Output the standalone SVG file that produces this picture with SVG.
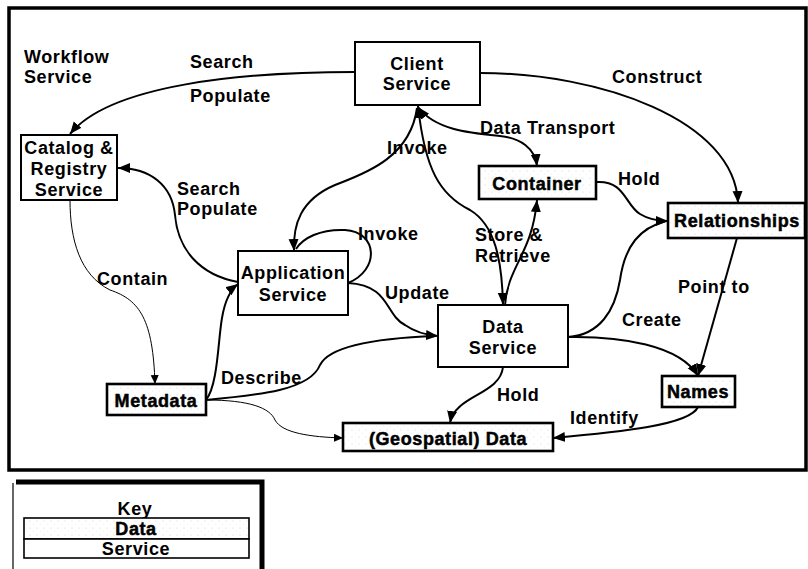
<svg xmlns="http://www.w3.org/2000/svg" width="808" height="569" viewBox="0 0 808 569">
<defs>
<marker id="ah" markerUnits="userSpaceOnUse" markerWidth="13" markerHeight="11" refX="12" refY="5" orient="auto-start-reverse" viewBox="0 0 13 11">
<path d="M0,0 L12,5 L0,10 z" fill="#000"/>
</marker>
<marker id="ahs" markerUnits="userSpaceOnUse" markerWidth="10" markerHeight="9" refX="9" refY="4" orient="auto" viewBox="0 0 10 9">
<path d="M0,0 L9,4 L0,8 z" fill="#000"/>
</marker>
<pattern id="speck" width="7" height="7" patternUnits="userSpaceOnUse">
<rect width="7" height="7" fill="#fff"/>
<circle cx="2" cy="3" r="0.5" fill="#ccc"/>
<circle cx="5.5" cy="6" r="0.4" fill="#ddd"/>
</pattern>
</defs>
<style>
text{font-family:"Liberation Sans",Arial,sans-serif;font-weight:bold;font-size:18px;letter-spacing:0.6px;fill:#000}
.c{text-anchor:middle}
.node rect{fill:#fff;stroke:#000;stroke-width:2}
.data rect{fill:url(#speck);stroke:#000;stroke-width:2.6}
.data text{stroke:#000;stroke-width:0.5}
.e{fill:none;stroke:#000;stroke-width:2}
.t{fill:none;stroke:#000;stroke-width:1}
</style>
<rect x="9" y="8" width="797" height="462" fill="none" stroke="#000" stroke-width="3.5"/>

<text x="24" y="63">Workflow</text>
<text x="24" y="83">Service</text>

<g id="connectors">
<path class="e" d="M355,72 C240,72 110,85 70,134" marker-end="url(#ah)"/>
<path class="e" d="M480,73 C600,73 735,120 738,203" marker-end="url(#ah)"/>
<path class="e" d="M418,107 C435,130 470,133 500,136 C520,138 535,148 537,166" marker-start="url(#ah)" marker-end="url(#ah)"/>
<path class="e" d="M417,108 C410,160 360,175 335,185 C300,200 293,225 294,251" marker-end="url(#ah)"/>
<path class="e" d="M418,106 C425,170 440,195 470,210 C495,225 502,260 503,305" marker-start="url(#ah)" marker-end="url(#ah)"/>
<path class="e" d="M505,305 C508,265 532,255 537,200" marker-end="url(#ah)"/>
<path class="e" d="M596,182 C625,180 625,205 640,214 C648,219 655,221 668,221" marker-end="url(#ah)"/>
<path class="e" d="M568,337 C600,335 615,310 620,280 C625,245 640,228 666,221"/>
<path class="e" d="M568,337 C620,336 680,345 698,376" marker-end="url(#ah)"/>
<path class="e" d="M737,238 L698,376" marker-end="url(#ah)"/>
<path class="e" d="M698,407 C690,425 620,432 553,438" marker-end="url(#ah)"/>
<path class="e" d="M503,367 C500,395 455,395 450,423" marker-end="url(#ah)"/>
<path class="e" d="M348,283 C390,285 385,315 405,325 C415,332 425,335 438,336" marker-end="url(#ah)"/>
<path class="e" d="M348,283 C380,270 378,232 345,230 C320,229 303,238 296,249"/>
<path class="e" d="M238,282 C200,275 178,250 175,215 C172,185 150,168 118,168" marker-end="url(#ah)"/>
<path class="t" d="M70,200 C70,240 80,275 110,290 C140,300 153,320 155,384" marker-end="url(#ahs)"/>
<path class="e" d="M206,400 C218,385 218,340 222,318 C225,300 230,290 238,284" marker-end="url(#ah)"/>
<path class="e" d="M206,400 C260,395 310,390 320,365 C330,345 380,338 436,336"/>
<path class="t" d="M206,400 C250,400 270,408 275,420 C282,433 310,437 343,438" marker-end="url(#ahs)"/>
</g>

<g id="labels">
<text x="190" y="68">Search</text>
<text x="190" y="102">Populate</text>
<text x="612" y="83">Construct</text>
<text x="480" y="134">Data Transport</text>
<text x="387" y="154">Invoke</text>
<text x="177" y="195">Search</text>
<text x="177" y="215">Populate</text>
<text x="618" y="185">Hold</text>
<text x="358" y="240">Invoke</text>
<text x="475" y="241">Store &amp;</text>
<text x="475" y="262">Retrieve</text>
<text x="97" y="285">Contain</text>
<text x="385" y="299">Update</text>
<text x="678" y="293">Point to</text>
<text x="622" y="326">Create</text>
<text x="221" y="384">Describe</text>
<text x="497" y="401">Hold</text>
<text x="570" y="424">Identify</text>
</g>

<g id="client-service" class="node">
<rect x="355" y="42" width="125" height="63"/>
<text class="c" x="417" y="70">Client</text>
<text class="c" x="417" y="90">Service</text>
</g>
<g id="catalog-registry-service" class="node">
<rect x="21" y="135" width="96" height="65"/>
<text class="c" x="69" y="154">Catalog &amp;</text>
<text class="c" x="69" y="175">Registry</text>
<text class="c" x="69" y="196">Service</text>
</g>
<g id="container" class="data">
<rect x="479" y="166" width="117" height="33"/>
<text class="c" x="537" y="190">Container</text>
</g>
<g id="relationships" class="data">
<rect x="668" y="203" width="137" height="35"/>
<text class="c" x="737" y="227">Relationships</text>
</g>
<g id="application-service" class="node">
<rect x="238" y="251" width="110" height="64"/>
<text class="c" x="293" y="279">Application</text>
<text class="c" x="293" y="301">Service</text>
</g>
<g id="data-service" class="node">
<rect x="438" y="305" width="130" height="62"/>
<text class="c" x="503" y="333">Data</text>
<text class="c" x="503" y="354">Service</text>
</g>
<g id="metadata" class="data">
<rect x="107" y="384" width="99" height="31"/>
<text class="c" x="156" y="407">Metadata</text>
</g>
<g id="names" class="data">
<rect x="662" y="376" width="73" height="31"/>
<text class="c" x="698" y="398">Names</text>
</g>
<g id="geospatial-data" class="data">
<rect x="343" y="423" width="210" height="28"/>
<text class="c" x="448" y="445">(Geospatial) Data</text>
</g>

<g id="key">
<path d="M13,483 L13,569" fill="none" stroke="#000" stroke-width="1.2"/>
<path d="M16,482 L262,482 L262,569" fill="none" stroke="#000" stroke-width="5"/>
<text class="c" x="135" y="515">Key</text>
<g class="data"><rect x="24" y="518" width="225" height="21" style="stroke-width:1.6"/><text class="c" x="136" y="535">Data</text></g>
<g class="node"><rect x="24" y="539" width="225" height="19" style="stroke-width:1.6"/><text class="c" x="136" y="555">Service</text></g>
</g>
</svg>
